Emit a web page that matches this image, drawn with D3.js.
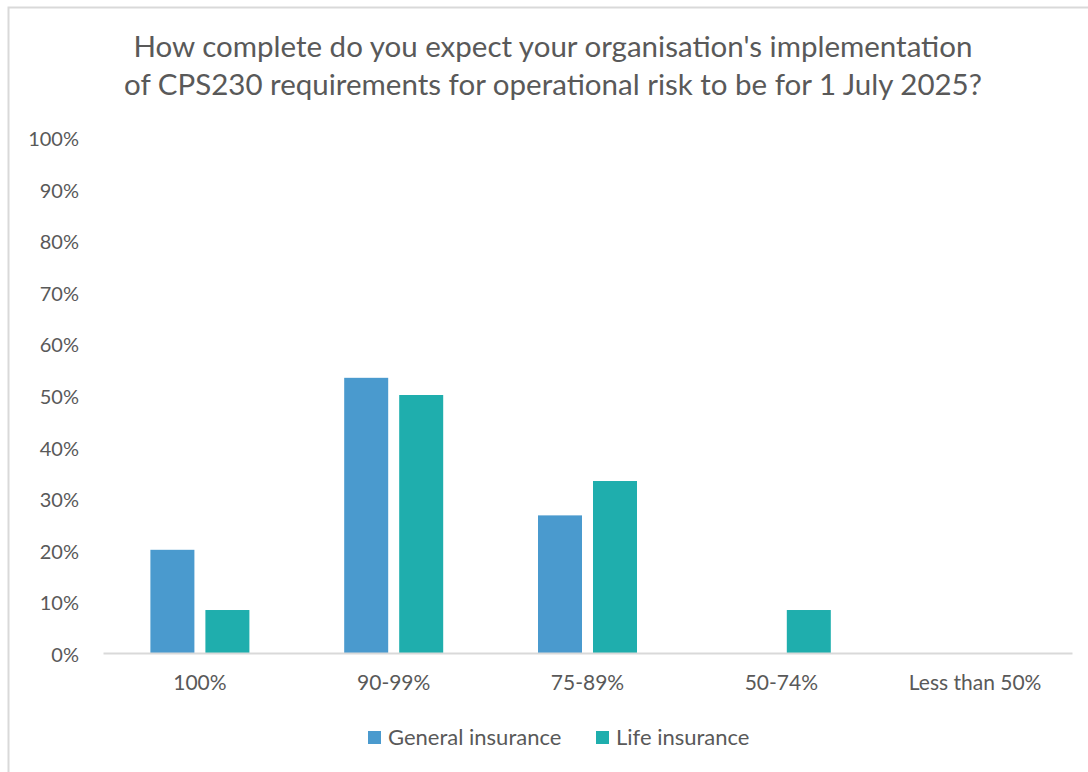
<!DOCTYPE html>
<html>
<head>
<meta charset="utf-8">
<script src="https://cdn.jsdelivr.net/npm/d3@7"></script>
<style>
  html, body { margin: 0; padding: 0; background: #fff; }
  svg { display: block; }
  text { font-family: Lato, "Open Sans", sans-serif; fill: #595959; }
</style>
</head>
<body>
<svg id="chart" width="1088" height="772"></svg>
<script>
// Response bands for the survey question
const categories = ["100%", "90-99%", "75-89%", "50-74%", "Less than 50%"];
const seriesNames = ["General insurance", "Life insurance"];
// Share of respondents per band (fractions)
const generalInsurance = [0.20, 0.5333, 0.2667, 0, 0];
const lifeInsurance = [0.0833, 0.50, 0.3333, 0.0833, 0];
const yTicks = [0, 0.1, 0.2, 0.3, 0.4, 0.5, 0.6, 0.7, 0.8, 0.9, 1.0];
const titleLines = [
  "How complete do you expect your organisation's implementation",
  "of CPS230 requirements for operational risk to be for 1 July 2025?"
];
const colors = ["#4A9ACE", "#1FAEAD"];

const svg = d3.select("#chart");
const W = 1088, H = 772;
const plot = { left: 103, right: 1072, top: 137, bottom: 653 };
const FONT = "Lato, 'Open Sans', sans-serif";

// Outer chart frame
svg.append("rect")
  .attr("x", 8.5).attr("y", 7.5)
  .attr("width", W + 20).attr("height", H + 20)
  .attr("fill", "none").attr("stroke", "#d9d9d9").attr("stroke-width", 2);

// Title
svg.append("g").selectAll("text")
  .data(titleLines).join("text")
  .attr("x", 553).attr("y", (d, i) => 57 + i * 38)
  .attr("text-anchor", "middle")
  .style("font-size", "29.5px")
  .text(d => d);

const x0 = d3.scaleBand().domain(categories).range([plot.left, plot.right]).padding(0);
const groupWidth = 99;
const x1 = d3.scaleBand().domain(seriesNames).range([0, groupWidth]).paddingInner(0.2).paddingOuter(0);
const y = d3.scaleLinear().domain([0, 1]).range([plot.bottom, plot.top]);

// Y axis labels
const yAxis = d3.axisLeft(y).tickValues(yTicks).tickFormat(d3.format(".0%")).tickSize(0).tickPadding(0);
const yG = svg.append("g").attr("transform", `translate(79,2)`).call(yAxis);
yG.select(".domain").remove();
yG.selectAll("text").style("font-size", "20px").style("font-family", FONT).attr("fill", "#595959");

// Bars
const rows = categories.map((c, i) => ({ cat: c, values: [generalInsurance[i], lifeInsurance[i]] }));
const groups = svg.append("g").selectAll("g")
  .data(rows).join("g")
  .attr("transform", d => `translate(${x0(d.cat) + (x0.bandwidth() - groupWidth) / 2},0)`);
groups.selectAll("rect")
  .data(d => d.values.map((v, j) => ({ name: seriesNames[j], v, j })))
  .join("rect")
  .filter(d => d.v > 0)
  .attr("x", d => x1(d.name))
  .attr("width", x1.bandwidth())
  .attr("y", d => y(d.v))
  .attr("height", d => y(0) - y(d.v))
  .attr("fill", d => colors[d.j]);

// Baseline and category labels
const xAxis = d3.axisBottom(x0).tickSize(0).tickPadding(22);
const xG = svg.append("g").attr("transform", `translate(0,${plot.bottom})`).call(xAxis);
xG.select(".domain").attr("stroke", "#d9d9d9").attr("stroke-width", 2);
xG.selectAll("text").style("font-size", "21px").style("font-family", FONT).attr("fill", "#595959");

// Legend
const legendItems = [{ name: seriesNames[0], x: 368 }, { name: seriesNames[1], x: 596 }];
const lg = svg.append("g").selectAll("g").data(legendItems).join("g")
  .attr("transform", d => `translate(${d.x},731)`);
lg.append("rect").attr("width", 13).attr("height", 13).attr("fill", (d, i) => colors[i]);
lg.append("text").attr("x", 20).attr("y", 13.5).style("font-size", "22px").text(d => d.name);
</script>
</body>
</html>
